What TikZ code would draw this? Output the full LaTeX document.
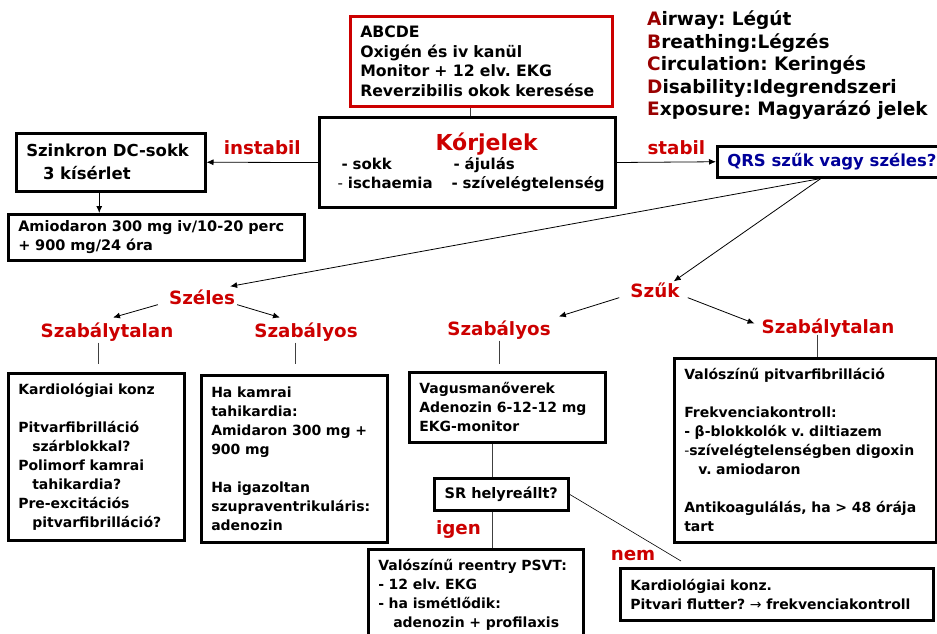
\documentclass[tikz,border=0pt]{standalone}
\usepackage{fontspec}
\setmainfont{DejaVu Sans}
\usetikzlibrary{arrows.meta}
\definecolor{kred}{HTML}{CC0000}
\definecolor{kdark}{HTML}{990000}
\definecolor{kblue}{HTML}{000099}
\frenchspacing
\newcommand{\alap}{\fontsize{14}{19}\selectfont\bfseries}
\newcommand{\piros}{\fontsize{18.3}{22}\selectfont\bfseries}
\tikzset{
  doboz/.style={draw, line width=2.5pt, anchor=north west, align=left,
    inner xsep=10pt, inner ysep=0pt, font=\alap},
  meret/.code 2 args={\pgfmathsetlengthmacro\dobozw{#1}%
    \pgfmathsetlengthmacro\dobozt{#1-20}%
    \edef\dobozk{\noexpand\pgfkeysalso{minimum width=\dobozw,
      minimum height=#2, text width=\dobozt}}\dobozk},
  cimke/.style={text=kred, font=\piros, inner sep=1pt},
  nyil/.style={-{Latex[length=7pt,width=6pt]}, line width=0.8pt},
  vonal/.style={line width=0.8pt, draw=black!75}
}
\begin{document}
\begin{tikzpicture}[x=1pt, y=-1pt]
\useasboundingbox (0,0) rectangle (937,633);
% felso resz
\node[doboz, draw=kred, meret={262}{90}, font=\fontsize{15.7}{19.5}\selectfont\bfseries] (abcde) at (349,15)
  {ABCDE\\Oxigén és iv kanül\\Monitor + 12 elv. EKG\\Reverzibilis okok keresése};
\node[doboz, line width=3pt, meret={296}{90}, font=\fontsize{15}{19}\selectfont\bfseries] (korjel) at (318,116)
  {\hspace*{106pt}{\color{kred}\fontsize{22}{24}\selectfont Kórjelek}\\
   \mbox{\hspace*{12pt}\makebox[112pt][l]{- sokk}- ájulás}\\
   \mbox{\hspace*{8pt}\makebox[114pt][l]{{\mdseries -} ischaemia}- szívelégtelenség}};
\node[anchor=north west, align=left, inner sep=0pt, font=\fontsize{18.5}{22.5}\selectfont\bfseries] (abc) at (647,10.5)
  {\textcolor{kdark}{A}irway: Légút\\\textcolor{kdark}{B}reathing:Légzés\\\textcolor{kdark}{C}irculation: Keringés\\
   \textcolor{kdark}{D}isability:Idegrendszeri\\\textcolor{kdark}{E}xposure: Magyarázó jelek};
\node[doboz, meret={189}{58}, font=\fontsize{16.5}{23}\selectfont\bfseries] (szinkron) at (15,132)
  {Szinkron DC-sokk\\\hspace*{17pt}3 kísérlet};
\node[doboz, meret={296}{46}, font=\fontsize{14.5}{19}\selectfont\bfseries] (amio) at (7,213)
  {Amiodaron 300 mg iv/10-20 perc\\+ 900 mg/24 óra};
\node[doboz, align=center, minimum width=220pt, minimum height=31pt, text=kblue,
  font=\fontsize{16.5}{20}\selectfont\bfseries] (qrs) at (716,145) {QRS szűk vagy széles?};
% elagazasok
\node[cimke] (szeles) at (202,297) {Széles};
\node[cimke] (szabt1) at (107,332) {Szabálytalan};
\node[cimke] (szabl1) at (306,332) {Szabályos};
\node[cimke] (szuk) at (655,290) {Szűk};
\node[cimke] (szabl2) at (499,330) {Szabályos};
\node[cimke] (szabt2) at (828,328) {Szabálytalan};
% also dobozok
\node[doboz, meret={176}{167}] (kard1) at (7,372)
  {Kardiológiai konz\\[19pt]Pitvarfibrilláció\\\hspace*{14pt}szárblokkal?\\Polimorf kamrai\\
   \hspace*{14pt}tahikardia?\\Pre-excitációs\\\hspace*{14pt}pitvarfibrilláció?};
\node[doboz, meret={186}{167}] (hakamrai) at (200,374)
  {Ha kamrai\\tahikardia:\\Amidaron 300 mg +\\900 mg\\[19pt]Ha igazoltan\\szupraventrikuláris:\\adenozin};
\node[doboz, meret={196}{70}] (vagus) at (408,371)
  {Vagusmanőverek\\Adenozin 6-12-12 mg\\EKG-monitor};
\node[doboz, align=center, minimum width=134pt, minimum height=32pt,
  font=\fontsize{14.5}{19}\selectfont\bfseries] (sr) at (433,477) {SR helyreállt?};
\node[doboz, meret={215}{91}] (psvt) at (367,548)
  {Valószínű reentry PSVT:\\- 12 elv. EKG\\- ha ismétlődik:\\\hspace*{15pt}adenozin + profilaxis};
\node[doboz, meret={262}{184}] (pitvar) at (673,357)
  {Valószínű pitvarfibrilláció\\[19pt]Frekvenciakontroll:\\- β-blokkolók v. diltiazem\\
   {\mdseries-}szívelégtelenségben digoxin\\\hspace*{14pt}v. amiodaron\\[19pt]Antikoagulálás, ha > 48 órája\\tart};
\node[doboz, meret={313}{52}] (kard2) at (619,567)
  {Kardiológiai konz.\\Pitvari flutter? {\mdseries→} frekvenciakontroll};
% nyilak
\draw[vonal] ([xshift=3pt]korjel.north) -- ([xshift=3pt]korjel.north |- abcde.south);
\draw[nyil] (korjel.west) -- (szinkron.east) node[cimke, midway, above=6pt] {instabil};
\draw[nyil] ([xshift=-11.5pt]szinkron.south) -- ([xshift=-11.5pt]szinkron.south |- amio.north);
\draw[nyil] (korjel.east) -- (qrs.west) node[cimke, pos=0.6, above=6pt] {stabil};
\coordinate (qrsal) at ([xshift=-11pt]qrs.south);
\draw[nyil] (qrsal) -- ([xshift=-6pt,yshift=2pt]szeles.north east);
\draw[nyil] (qrsal) -- ([xshift=-7pt]szuk.north east);
\draw[nyil] ([xshift=-10pt,yshift=1pt]szeles.south west) -- ([xshift=6pt,yshift=4pt]szabt1.north);
\draw[nyil] ([xshift=1pt,yshift=1pt]szeles.south east) -- ([xshift=-26pt,yshift=4pt]szabl1.north);
\draw[nyil] ([xshift=-10pt,yshift=1pt]szuk.south west) -- ([xshift=7pt,yshift=3pt]szabl2.north east);
\draw[nyil] ([xshift=7pt,yshift=1pt]szuk.south east) -- ([xshift=-6pt,yshift=-6pt]szabt2.north west);
\draw[vonal] ([xshift=-9pt]szabt1.south) -- ([xshift=-9pt,yshift=8pt]szabt1.south |- kard1.north);
\draw[vonal] ([xshift=-11pt]szabl1.south) -- ([xshift=-11pt,yshift=10pt]szabl1.south |- hakamrai.north);
\draw[vonal] (szabl2.south) -- ([yshift=7pt]szabl2.south |- vagus.north);
\draw[vonal] ([xshift=-11pt,yshift=4pt]szabt2.south) -- ([xshift=-11pt]szabt2.south |- pitvar.north);
\draw[vonal] ([xshift=-9pt]sr.north) -- ([xshift=-9pt]sr.north |- vagus.south);
\draw[vonal] ([xshift=-9pt]sr.south) -- ([xshift=-9pt]sr.south |- psvt.north)
  node[cimke, midway, left=10pt] {igen};
\coordinate (nemvege) at (681,561);
\draw[line width=0.6pt] (sr.east) -- (nemvege);
\node[cimke] (nem) at (633,555) {nem};
\end{tikzpicture}
\end{document}
